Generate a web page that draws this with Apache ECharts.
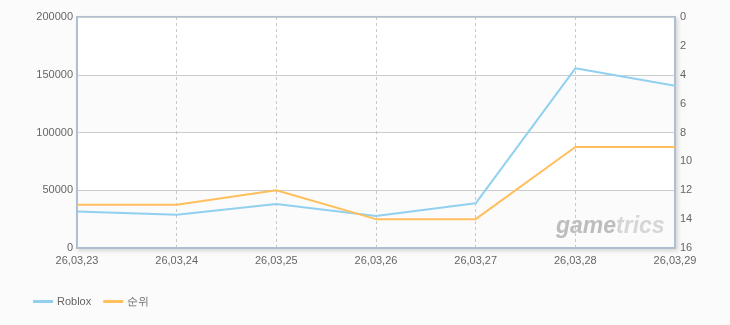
<!DOCTYPE html>
<html><head><meta charset="utf-8">
<script src="https://cdn.jsdelivr.net/npm/echarts@6/dist/echarts.min.js"></script>
<style>html,body{margin:0;padding:0;background:#fbfbfb;}#c{width:730px;height:325px;}</style>
</head><body><div id="c"></div>
<script>
const categories = ['26,03,23','26,03,24','26,03,25','26,03,26','26,03,27','26,03,28','26,03,29'];
const robloxValues = [31500, 28800, 38000, 27800, 38700, 155600, 140500];
const rankValues = [13, 13, 12, 14, 14, 9, 9];
const seriesNames = ['Roblox', '순위'];

const chart = echarts.init(document.getElementById('c'));
const font = '"Liberation Sans", Arial, sans-serif';
const axisColor = '#aebfd2';
chart.setOption({
  backgroundColor: '#fbfbfb',
  animation: false,
  grid: {left: 77, right: 55, top: 17, bottom: 77, show: true, backgroundColor: '#ffffff',
    borderColor: axisColor, borderWidth: 2, shadowColor: 'rgba(0,0,0,0.12)', shadowBlur: 4, shadowOffsetX: 2, shadowOffsetY: 2},
  legend: {left: 28, top: 291, icon: 'rect', itemWidth: 20, itemHeight: 3, itemGap: 12,
    textStyle: {color: '#666', fontSize: 11, fontFamily: font, padding: [0, 0, 0, -1]}, data: seriesNames},
  xAxis: {type: 'category', data: categories, boundaryGap: false,
    axisLine: {show: true, lineStyle: {color: axisColor, width: 2}}, axisTick: {show: false},
    axisLabel: {color: '#666', fontSize: 11, fontFamily: font, margin: 7, interval: 0},
    splitLine: {show: true, lineStyle: {color: '#c8c8c8', type: [3, 3], width: 1}}},
  yAxis: [
    {type: 'value', min: 0, max: 200000, interval: 50000,
      axisLine: {show: true, lineStyle: {color: axisColor, width: 2}}, axisTick: {show: false},
      axisLabel: {color: '#666', fontSize: 11, fontFamily: font, margin: 4, formatter: v => String(v)},
      splitLine: {show: true, lineStyle: {color: '#cccccc', width: 1}},
      splitArea: {show: true, areaStyle: {color: ['#fbfbfb', '#ffffff']}}},
    {type: 'value', min: 0, max: 16, interval: 2, inverse: true, position: 'right',
      axisLine: {show: true, lineStyle: {color: axisColor, width: 2}}, axisTick: {show: false},
      axisLabel: {color: '#666', fontSize: 11, fontFamily: font, margin: 5},
      splitLine: {show: false}}
  ],
  series: [
    {name: seriesNames[0], type: 'line', data: robloxValues, yAxisIndex: 0, symbol: 'none',
      lineStyle: {color: '#92d0f0', width: 2}, itemStyle: {color: '#92d0f0'}},
    {name: seriesNames[1], type: 'line', data: rankValues, yAxisIndex: 1, symbol: 'none',
      lineStyle: {color: '#ffbf5c', width: 2}, itemStyle: {color: '#ffbf5c'}}
  ],
  graphic: [{type: 'text', left: 556, top: 215, z: 100,
    style: {text: '{a|game}{b|trics}', fontSize: 23, fontStyle: 'italic', fontWeight: 'bold',
      fontFamily: '"Liberation Sans", sans-serif',
      rich: {a: {fill: '#bdbdbd', fontSize: 23, fontStyle: 'italic', fontWeight: 'bold', fontFamily: '"Liberation Sans", sans-serif'},
             b: {fill: '#d6d6d6', fontSize: 23, fontStyle: 'italic', fontWeight: 'bold', fontFamily: '"Liberation Sans", sans-serif'}}}}]
});
</script></body></html>
